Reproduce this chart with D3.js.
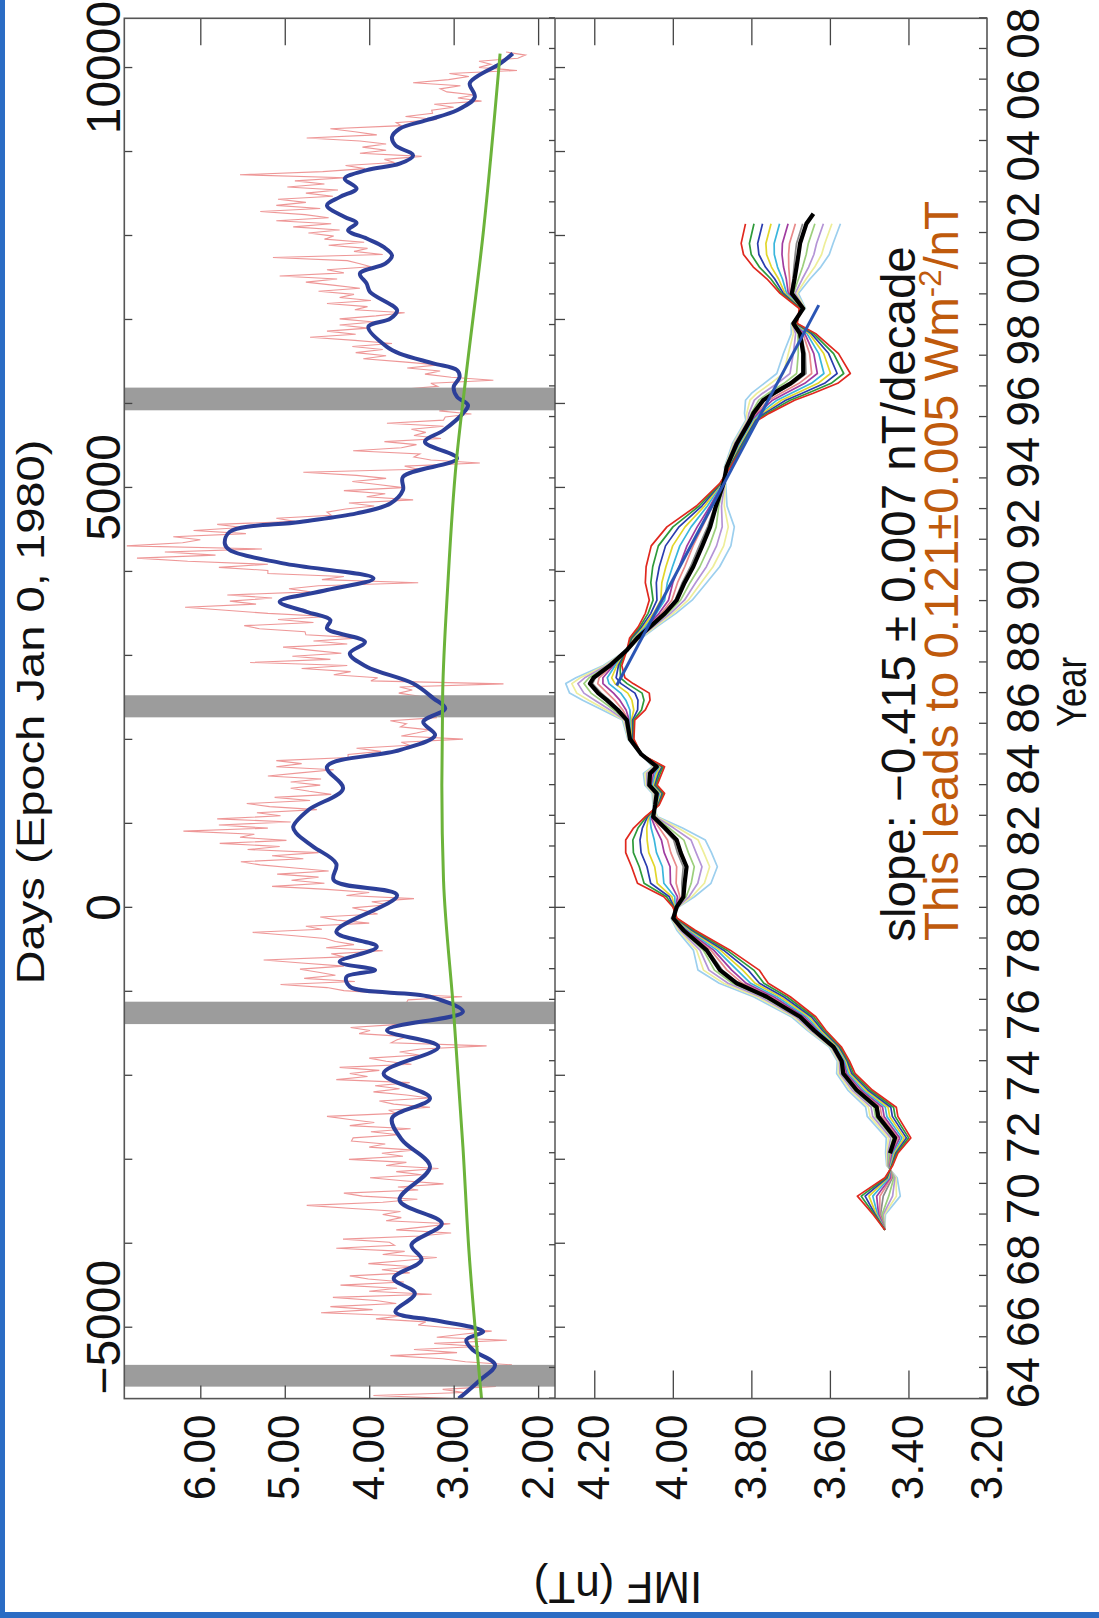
<!DOCTYPE html>
<html>
<head>
<meta charset="utf-8">
<script src="https://cdn.jsdelivr.net/npm/d3@7"></script>
<style>
  html, body { margin: 0; padding: 0; background: #fff; }
  svg { display: block; }
  text { font-family: "Liberation Sans", Arial, Helvetica, sans-serif; fill: #111; }
</style>
</head>
<body>
<svg id="chart" width="1099" height="1618"></svg>
<script>
// ---------------- data ----------------
// solar-minimum intervals (decimal years) shaded in the IMF panel
const minimaStart = [1964.39, 1976.21, 1986.21, 1996.22];
const minimaEnd   = [1965.10, 1976.94, 1986.93, 1996.96];

// 27-day IMF field strength (nT), one value every 0.1 yr from 1964.0
const imfStartYear = 1964.0;
const imfStep = 0.1;
const imf27 = [
  2.99, 3.95, 2.88, 3.13, 2.50, 2.89, 3.25, 2.58, 2.43, 2.81,
  2.62, 2.31, 2.86, 3.13, 3.75, 2.96, 3.47, 2.70, 3.23, 2.37,
  3.20, 2.90, 2.55, 3.03, 3.42, 3.33, 3.92, 3.60, 4.57, 3.96,
  4.46, 3.68, 3.92, 4.43, 3.26, 4.00, 3.67, 4.34, 3.59, 4.01,
  4.23, 3.52, 3.85, 3.47, 4.01, 3.58, 3.20, 3.84, 3.58, 4.39,
  3.70, 3.76, 4.31, 3.40, 3.03, 3.68, 3.35, 3.04, 3.80, 3.62,
  3.84, 3.63, 4.20, 4.74, 3.84, 3.43, 4.08, 4.30, 3.42, 3.66,
  3.12, 3.60, 3.99, 3.38, 3.68, 3.18, 3.80, 3.56, 4.24, 3.60,
  3.85, 3.48, 4.00, 3.81, 4.21, 4.19, 3.65, 3.98, 3.51, 4.23,
  3.94, 4.23, 4.50, 3.68, 3.77, 3.28, 3.71, 3.88, 3.29, 3.56,
  3.95, 3.64, 3.93, 3.52, 4.39, 4.02, 4.23, 3.88, 4.35, 3.50,
  3.80, 4.00, 3.41, 3.64, 3.39, 2.61, 3.74, 3.67, 3.55, 4.12,
  3.99, 4.22, 3.65, 3.63, 3.00, 3.15, 2.99, 3.23, 2.94, 3.56,
  3.54, 2.90, 3.75, 4.30, 4.50, 5.05, 4.17, 4.77, 4.40, 4.60,
  4.82, 4.30, 4.80, 5.25, 4.30, 4.45, 3.84, 4.51, 4.18, 4.40,
  4.52, 4.92, 5.38, 4.56, 4.75, 4.00, 4.38, 4.58, 3.90, 4.04,
  4.20, 3.78, 3.97, 3.47, 4.27, 4.00, 4.50, 5.15, 4.53, 4.92,
  4.60, 5.09, 4.48, 4.88, 5.29, 5.52, 4.78, 5.15, 4.60, 5.44,
  5.06, 5.77, 4.98, 5.53, 5.36, 6.20, 5.20, 5.78, 4.93, 5.80,
  5.05, 5.33, 4.62, 5.18, 5.45, 4.70, 5.12, 4.45, 4.71, 4.93,
  4.58, 4.93, 4.57, 5.20, 4.82, 4.42, 5.10, 4.80, 5.10, 4.25,
  4.25, 3.86, 4.15, 3.52, 3.62, 2.89, 3.62, 3.44, 3.28, 3.63,
  3.56, 3.75, 3.20, 3.42, 3.24, 3.40, 3.02, 3.38, 3.63, 3.40,
  3.65, 3.49, 3.64, 2.41, 3.98, 3.90, 4.42, 4.22, 4.80, 4.26,
  5.41, 4.46, 4.91, 4.33, 4.70, 5.02, 4.26, 4.66, 4.10, 4.75,
  4.76, 5.30, 5.48, 4.66, 5.08, 4.48, 5.20, 5.70, 6.18, 5.34,
  5.65, 5.15, 5.68, 4.70, 4.95, 4.60, 3.42, 4.56, 4.30, 5.20,
  5.20, 5.78, 5.20, 6.15, 6.75, 5.82, 6.42, 5.27, 6.87, 6.21,
  6.00, 6.32, 5.46, 6.08, 5.50, 5.80, 4.88, 5.10, 4.45, 4.50,
  4.28, 3.94, 4.24, 3.48, 4.03, 3.81, 4.30, 3.60, 3.90, 4.20,
  3.80, 4.15, 4.78, 3.42, 3.58, 2.69, 3.27, 3.47, 3.40, 4.19,
  3.62, 3.44, 3.82, 3.15, 3.47, 3.33, 3.50, 3.12, 3.79, 3.12,
  3.10, 2.79, 3.17, 2.94, 3.23, 2.88, 3.14, 2.77, 3.29, 3.64,
  3.19, 3.27, 2.53, 3.03, 3.34, 3.16, 3.55, 3.18, 3.60, 4.07,
  3.80, 4.16, 3.84, 4.20, 3.73, 4.17, 4.70, 4.16, 4.50, 4.01,
  4.35, 3.94, 4.35, 3.92, 3.58, 4.17, 4.02, 4.50, 3.98, 4.35,
  4.18, 4.60, 4.11, 4.43, 4.75, 4.38, 5.06, 4.30, 4.50, 3.98,
  4.11, 4.26, 5.14, 3.84, 4.18, 4.02, 4.48, 4.06, 4.53, 4.42,
  4.72, 4.35, 4.90, 4.45, 5.10, 4.48, 4.76, 5.29, 4.58, 5.10,
  4.75, 5.08, 4.43, 4.75, 4.37, 4.97, 4.53, 4.88, 4.28, 5.53,
  4.55, 4.05, 4.28, 3.70, 3.82, 3.38, 4.11, 3.80, 4.08, 3.80,
  4.11, 4.74, 3.91, 4.17, 4.46, 3.62, 3.68, 3.20, 3.57, 3.25,
  3.26, 3.00, 3.23, 2.67, 2.95, 2.75, 3.08, 3.16, 2.92, 3.48,
  3.06, 2.82, 3.05, 2.25, 2.70, 2.56, 2.70, 2.24, 2.15, 2.38
];

// smoothed IMF (nT)
const smoothYears = [1964.0, 1964.6, 1965.1, 1965.58, 1965.91, 1966.18, 1966.29, 1966.56, 1966.83, 1967.43,
  1967.92, 1968.52, 1969.01, 1969.71, 1970.47, 1971.56, 1972.43, 1973.14, 1973.79, 1974.6,
  1975.47, 1976.01, 1976.61, 1977.1, 1977.43, 1977.75, 1977.97, 1978.24, 1978.73, 1979.22,
  1980.41, 1980.9, 1981.44, 1981.99, 1982.42, 1982.64, 1983.19, 1983.89, 1984.6, 1985.14,
  1985.63, 1986.06, 1986.5, 1986.83, 1987.31, 1987.86, 1988.29, 1988.67, 1989.11, 1989.38,
  1989.65, 1989.98, 1990.36, 1990.74, 1991.23, 1991.66, 1991.88, 1992.26, 1992.58, 1992.86,
  1993.18, 1993.62, 1994.05, 1994.65, 1995.19, 1995.57, 1996.12, 1996.39, 1996.66, 1996.98,
  1997.31, 1997.53, 1997.75, 1998.07, 1998.29, 1998.94, 1999.21, 1999.48, 2000.08, 2000.35,
  2000.68, 2001.0, 2001.27, 2001.55, 2001.82, 2002.09, 2002.33, 2002.52, 2002.9, 2003.17,
  2003.45, 2003.77, 2004.05, 2004.26, 2004.53, 2004.86, 2005.13, 2005.4, 2005.68, 2006.0,
  2006.43, 2006.87, 2007.09, 2007.52, 2007.85];
const smoothValues = [2.94, 2.69, 2.51, 2.77, 2.85, 2.65, 2.73, 3.24, 3.69, 3.46,
  3.71, 3.38, 3.50, 3.14, 3.64, 3.28, 3.61, 3.73, 3.28, 3.83,
  3.18, 3.79, 2.89, 3.28, 4.23, 4.27, 3.93, 4.35, 3.91, 4.39,
  3.67, 4.42, 4.39, 4.66, 4.86, 4.90, 4.72, 4.31, 4.50, 3.64,
  3.22, 3.36, 3.10, 3.24, 3.48, 4.03, 4.23, 4.05, 4.50, 4.46,
  4.74, 5.06, 4.50, 3.95, 5.02, 5.65, 5.71, 5.65, 4.82, 4.15,
  3.75, 3.60, 3.60, 2.96, 3.34, 3.12, 2.89, 2.83, 2.96, 3.00,
  2.93, 2.96, 3.24, 3.64, 3.79, 4.01, 3.75, 3.67, 3.99, 4.03,
  4.11, 3.81, 3.73, 3.83, 4.03, 4.25, 4.15, 4.29, 4.50, 4.35,
  4.15, 4.29, 4.03, 3.64, 3.48, 3.69, 3.73, 3.64, 3.32, 2.96,
  2.75, 2.81, 2.73, 2.45, 2.30];

// long-term trend of the IMF (nT)
const trendYears  = [1964.0, 1968.85, 1972.2, 1976.6, 1980.9, 1984.0, 1987.0, 1990.5, 1994.5, 1997.2, 2002.0, 2007.85];
const trendValues = [2.67, 2.82, 2.89, 3.00, 3.12, 3.14, 3.13, 3.07, 2.97, 2.86, 2.65, 2.45];

// lower panel: reconstructed IMF (nT), best estimate and its family of variants
const fanYears = [1969.5, 1970.0, 1970.6, 1971.2, 1971.6, 1972.0, 1972.5, 1973.2, 1973.5, 1974.06,
  1974.6, 1975.0, 1975.47, 1976.0, 1976.45, 1977.1, 1977.54, 1977.97, 1978.62, 1979.27,
  1979.66, 1980.03, 1980.36, 1980.8, 1981.34, 1981.8, 1982.21, 1982.6, 1982.97, 1983.35,
  1983.73, 1984.0, 1984.38, 1984.6, 1985.0, 1985.5, 1986.12, 1986.45, 1986.77, 1987.0,
  1987.31, 1987.5, 1987.9, 1988.4, 1988.8, 1989.16, 1989.6, 1990.03, 1990.6, 1991.12,
  1991.8, 1992.42, 1993.1, 1993.83, 1994.37, 1995.14, 1995.9, 1996.12, 1996.55, 1996.77,
  1997.1, 1997.42, 1998.07, 1998.72, 1999.05, 1999.54, 2000.03, 2000.5, 2000.89, 2001.3,
  2001.66, 2002.3, 2002.63];
const bestValues = [3.46, 3.47, 3.46, 3.44, 3.45, 3.447, 3.434, 3.477, 3.481, 3.532,
  3.566, 3.57, 3.591, 3.64, 3.676, 3.761, 3.837, 3.880, 3.914, 3.973,
  3.999, 3.990, 3.973, 3.97, 3.965, 3.98, 3.990, 4.02, 4.050, 4.045,
  4.041, 4.06, 4.058, 4.041, 4.08, 4.109, 4.117, 4.14, 4.168, 4.19,
  4.211, 4.202, 4.16, 4.117, 4.09, 4.058, 4.02, 3.990, 3.97, 3.948,
  3.925, 3.905, 3.89, 3.871, 3.863, 3.837, 3.803, 3.795, 3.77, 3.744,
  3.70, 3.668, 3.668, 3.676, 3.693, 3.668, 3.697, 3.69, 3.685, 3.68,
  3.676, 3.66, 3.642];
// offset of the outermost (red) variant from the best estimate (nT)
const variantSpread = [0.00, 0.02, 0.07, 0.02, -0.01, -0.02, -0.04, -0.05, -0.05, -0.04,
  -0.03, -0.02, -0.02, -0.03, -0.04, -0.06, -0.08, -0.10, -0.06, -0.03,
  -0.01, 0.01, 0.05, 0.12, 0.14, 0.14, 0.13, 0.08, 0.02, -0.01,
  -0.02, -0.02, -0.03, -0.02, 0.00, -0.01, -0.02, -0.07, -0.11, -0.13,
  -0.11, -0.08, -0.03, 0.00, 0.02, 0.03, 0.05, 0.07, 0.10, 0.12,
  0.13, 0.11, 0.05, 0.01, -0.01, -0.02, -0.02, -0.04, -0.08, -0.10,
  -0.12, -0.12, -0.09, -0.04, -0.01, 0.01, 0.03, 0.07, 0.11, 0.14,
  0.15, 0.155, 0.16];
const variantColors  = ['#e0281e', '#2e9a3a', '#2a3cae', '#e2d62a', '#3ab6dc', '#a03ca0',
                        '#e88a8a', '#8a8a8a', '#9ccf7c', '#b494d6', '#eeee9a', '#9ccfee'];
const variantWeights = [1.0, 0.86, 0.72, 0.58, 0.44, 0.30, 0.18, 0.06, -0.14, -0.28, -0.42, -0.56];
const variantEndYear = 2002.3;
const bestStartYear = 1972.0;

// linear fit over the declining phase
const fitYears = [1987.25, 1999.65];
const fitStartValue = 4.143;
const fitSlopePerDecade = -0.415;

// axis ticks
const dayMajorTicks = [-5000, 0, 5000, 10000];
const dayMinorTicks = d3.range(-5000, 10001, 1000);
const topValueTicks = [2, 3, 4, 5, 6];
const bottomValueTicks = [3.2, 3.4, 3.6, 3.8, 4.0, 4.2];
const yearTicks = d3.range(1964, 2010);
const yearLabelYears = d3.range(1964, 2009, 2);

// ---------------- drawing ----------------
const W = 1099, H = 1618;
const svg = d3.select('#chart');
svg.append('rect').attr('width', W).attr('height', H).attr('fill', '#fff');

// the figure is laid out in landscape and turned a quarter turn onto the page
const X0 = 219.4, X1 = 1599.7;   // time extent
const Y0 = 124.3, YM = 555, Y1 = 987; // panel edges
const g = svg.append('g').attr('transform', `translate(0,${H}) rotate(-90)`);

const yearX = d3.scaleLinear().domain([1964, 2009]).range([X0, X1]);
const dayX = d3.scaleLinear().domain([(1964 - 1980) * 365.25, (2009 - 1980) * 365.25]).range([X0, X1]);
const yTop = d3.scaleLinear().domain([1.8, 6.9]).range([YM, Y0]);
const yBot = d3.scaleLinear().domain([3.2, 4.3]).range([Y1, YM]);

const defs = svg.append('defs');
defs.append('clipPath').attr('id', 'clipTop')
  .append('rect').attr('x', X0).attr('y', Y0).attr('width', X1 - X0).attr('height', YM - Y0);

// upper panel: 27-day values
const topLayer = g.append('g').attr('clip-path', 'url(#clipTop)');
topLayer.append('path')
  .datum(imf27)
  .attr('fill', 'none')
  .attr('stroke', '#eb8585')
  .attr('stroke-width', 1.1)
  .attr('stroke-opacity', 0.85)
  .attr('d', d3.line().x((d, i) => yearX(imfStartYear + i * imfStep)).y(d => yTop(d)));

// solar minima
topLayer.selectAll('rect.minimum')
  .data(minimaStart)
  .join('rect')
  .attr('class', 'minimum')
  .attr('x', d => yearX(d))
  .attr('width', (d, i) => yearX(minimaEnd[i]) - yearX(d))
  .attr('y', Y0)
  .attr('height', YM - Y0)
  .attr('fill', '#9c9c9c');

// smoothed curve
topLayer.append('path')
  .datum(smoothYears.map((y, i) => [y, smoothValues[i]]))
  .attr('fill', 'none')
  .attr('stroke', '#2c3f99')
  .attr('stroke-width', 4)
  .attr('stroke-linejoin', 'round')
  .attr('d', d3.line().curve(d3.curveCatmullRom.alpha(0.5)).x(d => yearX(d[0])).y(d => yTop(d[1])));

// trend
topLayer.append('path')
  .datum(trendYears.map((y, i) => [y, trendValues[i]]))
  .attr('fill', 'none')
  .attr('stroke', '#6cb33a')
  .attr('stroke-width', 3)
  .attr('d', d3.line().curve(d3.curveMonotoneX).x(d => yearX(d[0])).y(d => yTop(d[1])));

// lower panel: variants
const botLayer = g.append('g');
const variantLine = d3.line().x(d => yearX(d[0])).y(d => yBot(d[1]));
variantColors.map((c, k) => k).reverse().forEach(k => {
  const pts = fanYears
    .map((y, i) => [y, bestValues[i] + variantWeights[k] * variantSpread[i]])
    .filter(p => p[0] <= variantEndYear + 1e-9);
  botLayer.append('path')
    .datum(pts)
    .attr('fill', 'none')
    .attr('stroke', variantColors[k])
    .attr('stroke-width', 1.7)
    .attr('stroke-linejoin', 'round')
    .attr('d', variantLine);
});

// best estimate
botLayer.append('path')
  .datum(fanYears.map((y, i) => [y, bestValues[i]]).filter(p => p[0] >= bestStartYear))
  .attr('fill', 'none')
  .attr('stroke', '#000')
  .attr('stroke-width', 4.2)
  .attr('stroke-linejoin', 'round')
  .attr('d', variantLine);

// fitted slope
const fitValues = fitYears.map(y => fitStartValue + fitSlopePerDecade / 10 * (y - fitYears[0]));
botLayer.append('path')
  .datum(fitYears.map((y, i) => [y, fitValues[i]]))
  .attr('fill', 'none')
  .attr('stroke', '#2a55b5')
  .attr('stroke-width', 3)
  .attr('d', variantLine);

// ---------------- axes ----------------
const tickColor = '#444';
function styleAxis(sel) {
  sel.select('.domain').remove();
  sel.selectAll('.tick line').attr('stroke', tickColor).attr('stroke-width', 1.3);
  sel.selectAll('text').attr('fill', '#111').attr('font-family', '"Liberation Sans", Arial, Helvetica, sans-serif');
}

// days along the upper edge
g.append('g').attr('transform', `translate(0,${Y0})`)
  .call(d3.axisTop(dayX).tickValues(dayMinorTicks).tickSize(-8).tickFormat(''))
  .call(styleAxis);
g.append('g').attr('transform', `translate(0,${Y0})`)
  .call(d3.axisTop(dayX).tickValues(dayMajorTicks).tickSize(0).tickPadding(4).tickFormat(d3.format('d')))
  .call(styleAxis)
  .call(s => s.selectAll('text').attr('font-size', 48));

// value axes on the left edge
g.append('g').attr('transform', `translate(${X0},0)`)
  .call(d3.axisLeft(yTop).tickValues(topValueTicks).tickSize(-13).tickPadding(16).tickFormat(d3.format('.2f')))
  .call(styleAxis)
  .call(s => s.selectAll('text').attr('font-size', 44));
g.append('g').attr('transform', `translate(${X0},0)`)
  .call(d3.axisLeft(yBot).tickValues(bottomValueTicks).tickSize(-28).tickPadding(16).tickFormat(d3.format('.2f')))
  .call(styleAxis)
  .call(s => s.selectAll('text').attr('font-size', 44));

// value ticks on the right edge
g.append('g').attr('transform', `translate(${X1},0)`)
  .call(d3.axisRight(yTop).tickValues(topValueTicks).tickSize(-27).tickFormat(''))
  .call(styleAxis);
g.append('g').attr('transform', `translate(${X1},0)`)
  .call(d3.axisRight(yBot).tickValues(bottomValueTicks.filter(v => v > 3.2)).tickSize(-27).tickFormat(''))
  .call(styleAxis);

// years along the lower edge
g.append('g').attr('transform', `translate(0,${Y1})`)
  .call(d3.axisBottom(yearX).tickValues(yearTicks).tickSize(-8).tickFormat(''))
  .call(styleAxis);
g.append('g').attr('transform', `translate(0,${Y1})`)
  .call(d3.axisBottom(yearX).tickValues(yearLabelYears.map(y => y + 0.5)).tickSize(0).tickPadding(19)
    .tickFormat(y => String(Math.floor(y) % 100).padStart(2, '0')))
  .call(styleAxis)
  .call(s => s.selectAll('text').attr('font-size', 46));

// panel divider with its ticks
g.append('line').attr('x1', X0).attr('x2', X1).attr('y1', YM).attr('y2', YM)
  .attr('stroke', '#555').attr('stroke-width', 1.5);
g.append('g').attr('transform', `translate(0,${YM})`)
  .call(d3.axisTop(yearX).tickValues(yearTicks).tickSize(6).tickFormat(''))
  .call(styleAxis);
g.append('g').attr('transform', `translate(0,${YM})`)
  .call(d3.axisBottom(dayX).tickValues(dayMinorTicks).tickSize(10).tickFormat(''))
  .call(styleAxis);

// frame
g.append('rect').attr('x', X0).attr('y', Y0).attr('width', X1 - X0).attr('height', Y1 - Y0)
  .attr('fill', 'none').attr('stroke', '#555').attr('stroke-width', 1.6);

// ---------------- labels ----------------
g.append('text').attr('x', 1618 - 712).attr('y', 44).attr('text-anchor', 'middle')
  .attr('font-size', 38).attr('textLength', 545).attr('lengthAdjust', 'spacingAndGlyphs')
  .text('Days (Epoch Jan 0, 1980)');

g.append('text').attr('x', 1618 - 692).attr('y', 1086).attr('text-anchor', 'middle')
  .attr('font-size', 43).attr('textLength', 70).attr('lengthAdjust', 'spacingAndGlyphs')
  .text('Year');

g.append('text').attr('transform', `translate(31,618) rotate(-90)`).attr('text-anchor', 'middle')
  .attr('dy', '0.35em').attr('font-size', 44).text('IMF (nT)');

g.append('text').attr('x', 1618 - 594).attr('y', 915).attr('text-anchor', 'middle')
  .attr('font-size', 47.5).text('slope: \u22120.415 \u00b1 0.007 nT/decade');

const lead = g.append('text').attr('x', 1618 - 571).attr('y', 958).attr('text-anchor', 'middle')
  .attr('font-size', 47.5).style('fill', '#bf5a0c');
lead.append('tspan').text('This leads to 0.121\u00b10.005 Wm');
lead.append('tspan').attr('baseline-shift', 'super').attr('font-size', 31).text('-2');
lead.append('tspan').text('/nT');

// slide edges
svg.append('rect').attr('x', 0).attr('y', 0).attr('width', 5).attr('height', H).attr('fill', '#2b6cc4');
svg.append('rect').attr('x', 0).attr('y', H - 6).attr('width', W).attr('height', 6).attr('fill', '#2b6cc4');
</script>
</body>
</html>
